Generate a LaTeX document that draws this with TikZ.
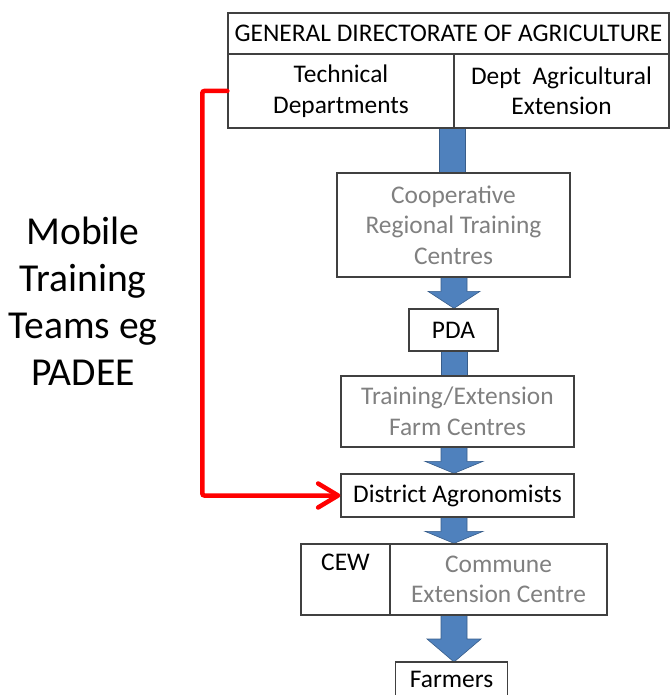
\documentclass[tikz,border=0pt]{standalone}
\usepackage{fontspec}
\setmainfont{Carlito}
\usetikzlibrary{arrows.meta,calc,backgrounds}
\definecolor{boxline}{RGB}{64,64,64}
\definecolor{softtext}{RGB}{128,128,128}
\definecolor{arrowblue}{RGB}{79,129,189}
\definecolor{arrowedge}{RGB}{56,93,138}
\definecolor{linkred}{RGB}{255,0,0}
\newcommand{\myflow}[4]{%
  \fill[flow] let \p1=(#1.south), \p2=(#2.north) in
    (441pt,\y1) -- (467pt,\y1) -- (467pt,\y2+#3) -- (454pt+#4,\y2+#3) -- (454pt,\y2)
    -- (454pt-#4,\y2+#3) -- (441pt,\y2+#3) -- cycle;}
\begin{document}
\begin{tikzpicture}[x=1pt,y=-1pt,
  box/.style={draw=boxline, line width=1.3pt, fill=white, inner sep=0pt, align=center,
              font=\fontsize{25.4}{30.5}\selectfont},
  soft/.style={text=softtext},
  flow/.style={fill=arrowblue, draw=arrowedge, line width=0.6pt},
  link/.style={draw=linkred, line width=4.5pt, rounded corners=2pt, line cap=round,
               -{Straight Barb[length=20pt,width=24pt,round]}},
]
\useasboundingbox (0,0) rectangle (671,695);
\clip (0,0) rectangle (671,695);

% top block
\node[box, minimum width=441pt, minimum height=41pt] (gda) at (448.5,33.5)
  {GENERAL DIRECTORATE OF AGRICULTURE};
\node[box, minimum width=226pt, minimum height=74pt] (tech) at (341,91)
  {Technical\\Departments};
\node[box, minimum width=215pt, minimum height=74pt] (dae) at (561.5,91)
  {Dept~~Agricultural\\Extension};

\node[box, soft, minimum width=233pt, minimum height=104pt] (coop) at (453.5,225)
  {Cooperative\\Regional Training\\Centres};
\node[box, minimum width=89pt, minimum height=42pt] (pda) at (453.5,330) {PDA};
\node[box, soft, minimum width=233pt, minimum height=71pt] (train) at (457.5,411.5)
  {Training/Extension\\Farm Centres};
\node[box, minimum width=233pt, minimum height=43pt] (district) at (457.5,495.5)
  {District Agronomists};
\node[box, minimum width=89pt, minimum height=71pt] (cew) at (345.5,579.5)
  {CEW\\\phantom{Ey}};
\node[box, soft, minimum width=217pt, minimum height=71pt] (commune) at (498.5,579.5)
  {Commune\\Extension Centre};
\node[box, draw=none, minimum width=111pt, minimum height=33pt, anchor=north] (farmers)
  at (451.5,662) {Farmers};
\draw[draw=boxline, line width=1.3pt]
  ([yshift=-4pt]farmers.south west) -- (farmers.north west) -- (farmers.north east)
  -- ([yshift=-4pt]farmers.south east);

\node[font=\fontsize{39.6}{47}\selectfont, align=center] (mobile) at (83,301)
  {Mobile\\Training\\Teams eg\\PADEE};

\begin{scope}[on background layer]
  \fill[flow] let \p1=(tech.south), \p2=(coop.north) in (439pt,\y1) rectangle (465pt,\y2);
  \myflow{coop}{pda}{17pt}{26pt}
  \fill[flow] let \p1=(pda.south), \p2=(train.north) in (441pt,\y1) rectangle (467pt,\y2);
  \myflow{train}{district}{12pt}{29pt}
  \myflow{district}{cew}{12pt}{29pt}
  \myflow{commune}{farmers}{23pt}{27pt}
\end{scope}

\draw[link] (tech.west) -- ++(-25,0) |- (district.west);
\end{tikzpicture}
\end{document}
